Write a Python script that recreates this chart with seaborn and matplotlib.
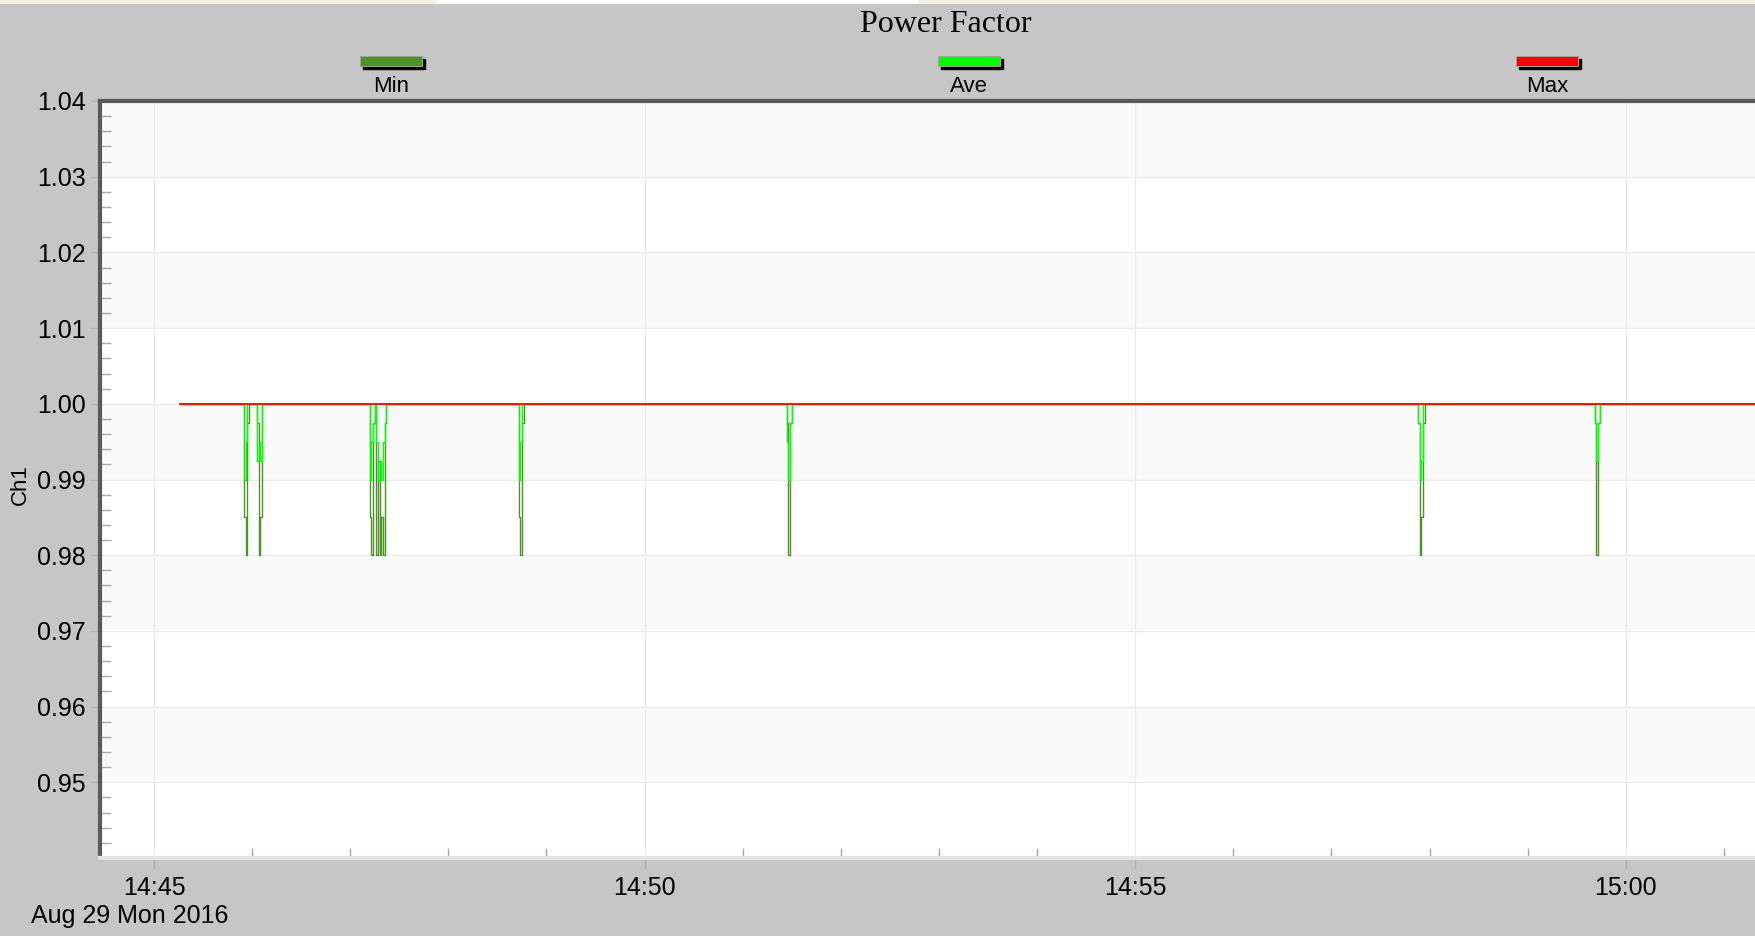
import matplotlib
matplotlib.use('Agg')
import matplotlib.pyplot as plt
import matplotlib.dates as mdates
from matplotlib.patches import Rectangle
import pandas as pd
import seaborn as sns

plt.rcParams['font.family'] = ['Liberation Sans', 'DejaVu Sans']

# data
day = '2016-08-29 '
series_names = ['Min', 'Ave', 'Max']
series_colors = ['#4e9124', '#00ff00', '#ff0000']
trace_start = '14:45:16'
trace_end = '15:01:30'
dip_starts = ['14:45:55', '14:46:03', '14:47:12', '14:47:16',
              '14:48:43', '14:51:27', '14:57:53', '14:59:41']
min_dips = [[0.985, 0.98, 0.9975],
            [0.9975, 0.98, 0.985],
            [0.985, 0.98, 0.9975],
            [0.98, 0.9925, 0.98, 0.985, 0.98, 0.9975],
            [0.985, 0.98, 0.9975],
            [0.9975, 0.98, 0.9975],
            [0.9975, 0.98, 0.985, 0.9975],
            [0.9975, 0.98, 0.9975]]
ave_dips = [[0.99, 0.995, 1.0],
            [0.9925, 0.995, 0.9925],
            [0.99, 0.995, 0.9975],
            [0.995, 0.99, 0.9925, 0.99, 0.995, 0.9975],
            [0.99, 0.995, 1.0],
            [0.995, 0.99, 0.9975],
            [0.9975, 0.99, 0.9925, 1.0],
            [0.9975, 0.9925, 0.9975]]
y_ticks = [0.95, 0.96, 0.97, 0.98, 0.99, 1.00, 1.01, 1.02, 1.03, 1.04]
y_range = [0.94, 1.04]
x_range = ['14:44:27', '15:01:19']
date_label = 'Aug 29 Mon 2016'

W, H = 1755, 936
sec = pd.Timedelta(seconds=1)


def build(dips):
    t = [pd.Timestamp(day + trace_start)]
    v = [1.0]
    for s, vals in zip(dip_starts, dips):
        t0 = pd.Timestamp(day + s)
        t.append(t0 - sec)
        v.append(1.0)
        for i, val in enumerate(vals):
            t.append(t0 + i * sec)
            v.append(val)
        t.append(t0 + len(vals) * sec)
        v.append(1.0)
    t.append(pd.Timestamp(day + trace_end))
    v.append(1.0)
    return t, v


frames = []
for name, dips in [('Min', min_dips), ('Ave', ave_dips)]:
    t, v = build(dips)
    frames.append(pd.DataFrame({'time': t, 'value': v, 'series': name}))
frames.append(pd.DataFrame({'time': [pd.Timestamp(day + trace_start), pd.Timestamp(day + trace_end)],
                            'value': [1.0, 1.0], 'series': 'Max'}))
df = pd.concat(frames, ignore_index=True)

fig = plt.figure(figsize=(W / 100, H / 100), dpi=100, facecolor='#c6c6c6')
ax = fig.add_axes([100 / W, 1 - 858 / H, 1 - 100 / W, (858 - 101) / H])
ax.set_facecolor('white')

# alternating bands
for lo in [1.03, 1.01, 0.99, 0.97, 0.95]:
    ax.axhspan(lo, lo + 0.01, color='#fafafa', zorder=0, lw=0)

sns.lineplot(data=df[df.series != 'Max'], x='time', y='value', hue='series',
             hue_order=series_names[:2], palette=series_colors[:2], estimator=None,
             legend=False, lw=1.0, drawstyle='steps-post', ax=ax)
sns.lineplot(data=df[df.series == 'Max'], x='time', y='value', color=series_colors[2],
             estimator=None, legend=False, lw=1.3, zorder=5, ax=ax)

ax.set_ylim(*y_range)
ax.set_xlim(pd.Timestamp(day + x_range[0]), pd.Timestamp(day + x_range[1]))
ax.set_yticks(y_ticks)
ax.set_yticklabels([f'{v:.2f}' for v in y_ticks])
ax.yaxis.set_minor_locator(plt.MultipleLocator(0.002))
ax.xaxis.set_major_locator(mdates.MinuteLocator(byminute=range(0, 60, 5)))
ax.xaxis.set_minor_locator(mdates.MinuteLocator())
ax.xaxis.set_major_formatter(mdates.DateFormatter('%H:%M'))
ax.set_xlabel('')
ax.set_ylabel('')

ax.set_axisbelow(True)
ax.grid(True, which='major', color='#ebebeb', lw=1)

ax.tick_params(axis='y', which='major', direction='out', length=7, width=1,
               color='#b4b4b4', labelsize=18, pad=3)
ax.tick_params(axis='y', which='minor', direction='in', length=8, width=1, color='#a8a8a8')
ax.tick_params(axis='x', which='major', direction='out', length=8, width=1,
               color='#b0b0b0', labelsize=18, pad=5)
ax.tick_params(axis='x', which='minor', direction='in', length=7, width=1, color='#a8a8a8')

for side in ['top', 'left']:
    ax.spines[side].set_color('#5a5a5a')
    ax.spines[side].set_linewidth(3)
ax.spines['bottom'].set_color('#e3e3e3')
ax.spines['bottom'].set_linewidth(3)
ax.spines['right'].set_visible(False)

# title, labels
fig.text(946 / W, 1 - 25 / H, 'Power Factor', ha='center', va='center',
         fontsize=23, family='Liberation Serif')
fig.text(20 / W, 1 - 485 / H, 'Ch1', rotation=90, ha='center', va='center', fontsize=16)
fig.text(31 / W, 1 - 916 / H, date_label, ha='left', va='center', fontsize=18)

# legend swatches
for name, color, cx in zip(series_names, series_colors, [391, 969, 1547]):
    x0, y0 = cx - 31, 66
    fig.patches.append(Rectangle(((x0 + 3) / W, 1 - (y0 + 3) / H), 62 / W, 10 / H,
                                 transform=fig.transFigure, color='black'))
    fig.patches.append(Rectangle((x0 / W, 1 - y0 / H), 62 / W, 10 / H,
                                 transform=fig.transFigure, facecolor=color,
                                 edgecolor='#a0a0a0', lw=0.7))
    fig.text(cx / W, 1 - 87 / H, name, ha='center', va='center', fontsize=16)

# strip at the very top
fig.patches.append(Rectangle((0, 1 - 4 / H), 1, 4 / H, transform=fig.transFigure,
                             facecolor='#f4f0e2', lw=0))
fig.patches.append(Rectangle((437 / W, 1 - 4 / H), 481 / W, 4 / H, transform=fig.transFigure,
                             facecolor='white', lw=0))

fig.savefig('out.png', dpi=100, facecolor=fig.get_facecolor())
